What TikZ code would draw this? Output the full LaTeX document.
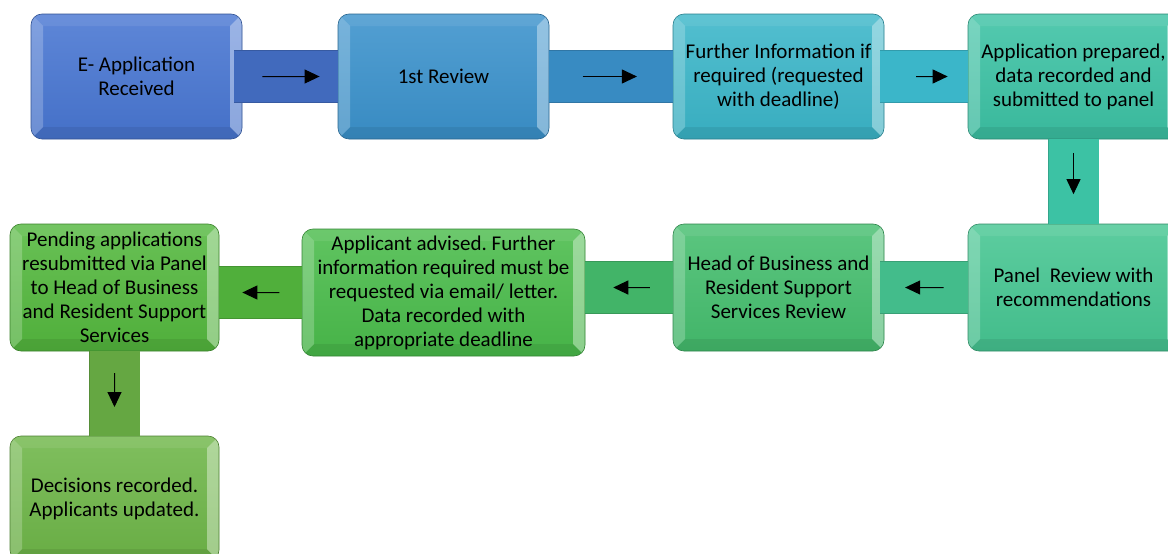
\documentclass[tikz,border=0pt]{standalone}
\usepackage{fontspec}
\setmainfont{Carlito}
\frenchspacing
\usetikzlibrary{arrows.meta,calc}

\definecolor{stepA}{HTML}{4876D2}
\definecolor{stepB}{HTML}{3B92CC}
\definecolor{stepC}{HTML}{3BB6C9}
\definecolor{stepD}{HTML}{3CC2A4}
\definecolor{stepE}{HTML}{46C692}
\definecolor{stepF}{HTML}{45BE6E}
\definecolor{stepG}{HTML}{4ABC4B}
\definecolor{stepH}{HTML}{54B83E}
\definecolor{stepI}{HTML}{6EB648}

\tikzset{
  stage/.style={draw=#1!70!black, line width=.6pt, rounded corners=11pt,
    top color=#1!88!white, bottom color=#1!95!black, minimum width=211pt, minimum height=125pt,
    align=center, font=\fontsize{21}{24}\selectfont,
    path picture={
      \coordinate (bl) at (path picture bounding box.south west);
      \coordinate (br) at (path picture bounding box.south east);
      \coordinate (tl) at (path picture bounding box.north west);
      \coordinate (tr) at (path picture bounding box.north east);
      \fill[sharp corners,white,opacity=.08] (tl) -- (tr) -- ([shift={(-12pt,-12pt)}]tr) -- ([shift={(12pt,-12pt)}]tl) -- cycle;
      \fill[sharp corners,black,opacity=.07] (bl) -- (br) -- ([shift={(-12pt,12pt)}]br) -- ([shift={(12pt,12pt)}]bl) -- cycle;
      \fill[sharp corners,white,opacity=.22] (bl) -- ([shift={(12pt,12pt)}]bl) -- ([shift={(12pt,-12pt)}]tl) -- (tl) -- cycle;
      \fill[sharp corners,white,opacity=.38] (br) -- ([shift={(-12pt,12pt)}]br) -- ([shift={(-12pt,-12pt)}]tr) -- (tr) -- cycle;
    }},
  bar/.style={draw=#1!85!black, line width=.8pt, double=#1, double distance=51pt},
  arr/.style={-{Triangle[length=15pt,width=14pt]}, line width=1pt}
}

\begin{document}
\begin{tikzpicture}[x=1pt,y=-1pt]
  \useasboundingbox (0,0) rectangle (1168,554);

  % top row
  \node[stage=stepA] (e1) at (136.5,76.5) {E- Application\\Received};
  \node[stage=stepB] (e2) at (443.5,76.5) {1st Review};
  \node[stage=stepC] (e3) at (778.5,76.5) {Further Information if\\required (requested\\with deadline)};
  \node[stage=stepD] (e4) at (1073.5,76.5) {Application prepared,\\data recorded and\\submitted to panel};

  % bottom rows
  \node[stage=stepE, minimum height=127pt] (e5) at (1073.5,287.5) {Panel~~Review with\\recommendations};
  \node[stage=stepF, minimum height=127pt] (e6) at (778.5,287.5) {Head of Business and\\Resident Support\\Services Review};
  \node[stage=stepG, minimum height=127pt, minimum width=283pt] (e7) at (443.5,292.5) {Applicant advised. Further\\information required must be\\requested via email/ letter.\\Data recorded with\\appropriate deadline};
  \node[stage=stepH, minimum height=127pt, minimum width=209pt] (e8) at (114.5,287.5) {Pending applications\\resubmitted via Panel\\to Head of Business\\and Resident Support\\Services};
  \node[stage=stepI, minimum width=209pt] (e9) at (114.5,498.5) {Decisions recorded.\\Applicants updated.};

  % connecting bars
  \draw[bar=stepA!90!black] ([xshift=-8pt]e1.east) -- (e2.west);
  \draw[bar=stepB!95!black] (e2.east) -- (e3.west);
  \draw[bar=stepC] ([xshift=-4pt]e3.east) -- (e4.west);
  \draw[bar=stepD, double distance=50pt] (e4.south) -- (e5.north);
  \draw[bar=stepE!95!black] (e5.west) -- ([xshift=-4pt]e6.east);
  \draw[bar=stepF!95!black] (e6.west) -- (e6.west -| e7.east);
  \draw[bar=stepH!95!black] (e7.west) -- (e7.west -| e8.east);
  \draw[bar=stepI!92!black, double distance=50pt] (e8.south) -- (e9.north);

  % arrows
  \draw[arr] ($(e1.east)!.21!(e2.west)$) -- ($(e1.east)!.81!(e2.west)$);
  \draw[arr] ($(e2.east)!.27!(e3.west)$) -- ($(e2.east)!.71!(e3.west)$);
  \draw[arr] ($(e3.east)!.38!(e4.west)$) -- ($(e3.east)!.76!(e4.west)$);
  \draw[arr] ($(e4.south)!.16!(e5.north)$) -- ($(e4.south)!.65!(e5.north)$);
  \draw[arr] ($(e5.west)!.29!(e6.east)$) -- ($(e5.west)!.75!(e6.east)$);
  \draw[arr] ($(e6.west)!.26!(e6.west -| e7.east)$) -- ($(e6.west)!.68!(e6.west -| e7.east)$);
  \draw[arr] ($(e7.west)!.27!(e7.west -| e8.east)$) -- ($(e7.west)!.72!(e7.west -| e8.east)$);
  \draw[arr] ($(e8.south)!.26!(e9.north)$) -- ($(e8.south)!.66!(e9.north)$);
\end{tikzpicture}
\end{document}
